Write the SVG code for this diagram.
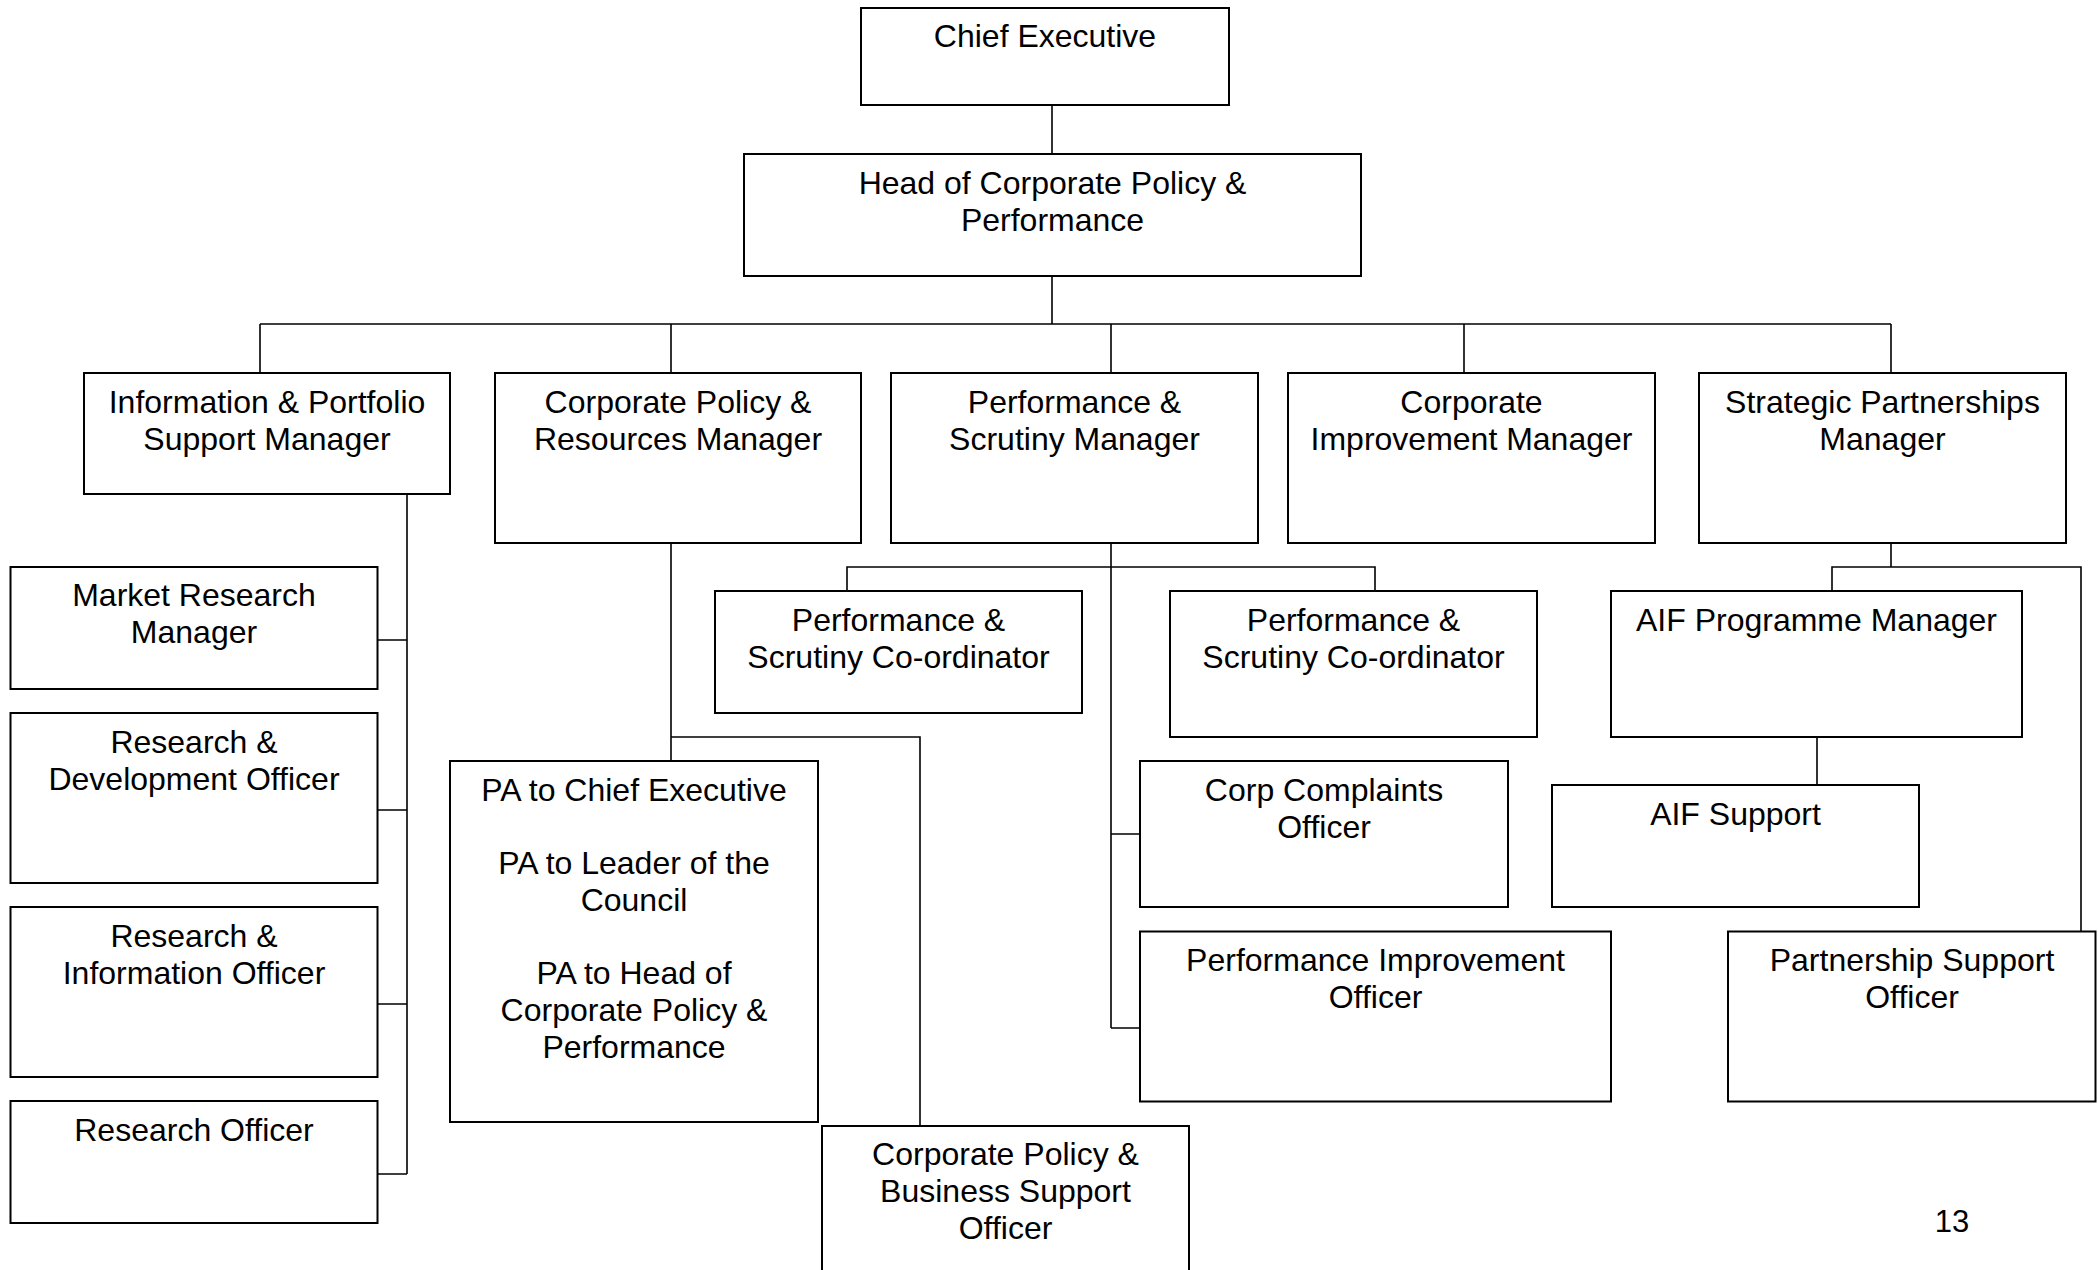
<svg xmlns="http://www.w3.org/2000/svg" width="2098" height="1270" viewBox="0 0 2098 1270">
<style>
.box{fill:#fff;stroke:#000;stroke-width:2}
.t{font-family:"Liberation Sans",Arial,sans-serif;font-size:32px;fill:#000;text-anchor:middle}
.c{fill:none;stroke:#000;stroke-width:1.6}
</style>
<rect width="2098" height="1270" fill="#fff"/>
<g id="connectors" class="c">
<path d="M1052 105V154M1052 276V324M260 324H1891M260 324V373M671 324V373M1111 324V373M1464 324V373M1891 324V373"/>
<path d="M407 494V1174M377 640H407M377 810H407M377 1004H407M377 1174H407"/>
<path d="M671 543V761M671 737H920V1126"/>
<path d="M1111 543V1028M847 591V567H1375V591M1111 834H1140M1111 1028H1140"/>
<path d="M1891 543V567M1832 591V567H2081V931.5M1817 737V785"/>
</g>
<g id="chief"><rect class="box" x="861" y="8" width="368" height="97"/><text class="t" x="1045" y="47">Chief Executive</text></g>
<g id="head"><rect class="box" x="744" y="154" width="617" height="122"/><text class="t" x="1052.5" y="194">Head of Corporate Policy &amp;</text><text class="t" x="1052.5" y="231">Performance</text></g>
<g id="info"><rect class="box" x="84" y="373" width="366" height="121"/><text class="t" x="267" y="413">Information &amp; Portfolio</text><text class="t" x="267" y="450">Support Manager</text></g>
<g id="cpr"><rect class="box" x="495" y="373" width="366" height="170"/><text class="t" x="678" y="413">Corporate Policy &amp;</text><text class="t" x="678" y="450">Resources Manager</text></g>
<g id="psm"><rect class="box" x="891" y="373" width="367" height="170"/><text class="t" x="1074.5" y="413">Performance &amp;</text><text class="t" x="1074.5" y="450">Scrutiny Manager</text></g>
<g id="cim"><rect class="box" x="1288" y="373" width="367" height="170"/><text class="t" x="1471.5" y="413">Corporate</text><text class="t" x="1471.5" y="450">Improvement Manager</text></g>
<g id="spm"><rect class="box" x="1699" y="373" width="367" height="170"/><text class="t" x="1882.5" y="413">Strategic Partnerships</text><text class="t" x="1882.5" y="450">Manager</text></g>
<g id="mrm"><rect class="box" x="10.5" y="567" width="367" height="122"/><text class="t" x="194" y="606">Market Research</text><text class="t" x="194" y="643">Manager</text></g>
<g id="rdo"><rect class="box" x="10.5" y="713" width="367" height="170"/><text class="t" x="194" y="753">Research &amp;</text><text class="t" x="194" y="790">Development Officer</text></g>
<g id="rio"><rect class="box" x="10.5" y="907" width="367" height="170"/><text class="t" x="194" y="947">Research &amp;</text><text class="t" x="194" y="984">Information Officer</text></g>
<g id="ro"><rect class="box" x="10.5" y="1101" width="367" height="122"/><text class="t" x="194" y="1141">Research Officer</text></g>
<g id="pa"><rect class="box" x="450" y="761" width="368" height="361"/><text class="t" x="634" y="801">PA to Chief Executive</text><text class="t" x="634" y="874">PA to Leader of the</text><text class="t" x="634" y="911">Council</text><text class="t" x="634" y="984">PA to Head of</text><text class="t" x="634" y="1021">Corporate Policy &amp;</text><text class="t" x="634" y="1058">Performance</text></g>
<g id="cpbso"><rect class="box" x="822" y="1126" width="367" height="170"/><text class="t" x="1005.5" y="1165">Corporate Policy &amp;</text><text class="t" x="1005.5" y="1202">Business Support</text><text class="t" x="1005.5" y="1239">Officer</text></g>
<g id="psc1"><rect class="box" x="715" y="591" width="367" height="122"/><text class="t" x="898.5" y="631">Performance &amp;</text><text class="t" x="898.5" y="668">Scrutiny Co-ordinator</text></g>
<g id="psc2"><rect class="box" x="1170" y="591" width="367" height="146"/><text class="t" x="1353.5" y="631">Performance &amp;</text><text class="t" x="1353.5" y="668">Scrutiny Co-ordinator</text></g>
<g id="cco"><rect class="box" x="1140" y="761" width="368" height="146"/><text class="t" x="1324" y="801">Corp Complaints</text><text class="t" x="1324" y="838">Officer</text></g>
<g id="pio"><rect class="box" x="1140" y="931.5" width="471" height="170"/><text class="t" x="1375.5" y="971">Performance Improvement</text><text class="t" x="1375.5" y="1008">Officer</text></g>
<g id="aifpm"><rect class="box" x="1611" y="591" width="411" height="146"/><text class="t" x="1816.5" y="631">AIF Programme Manager</text></g>
<g id="aifs"><rect class="box" x="1552" y="785" width="367" height="122"/><text class="t" x="1735.5" y="825">AIF Support</text></g>
<g id="pso"><rect class="box" x="1728" y="931.5" width="367.5" height="170"/><text class="t" x="1912" y="971">Partnership Support</text><text class="t" x="1912" y="1008">Officer</text></g>
<text class="t" x="1952" y="1232" style="font-size:31px">13</text>
</svg>
